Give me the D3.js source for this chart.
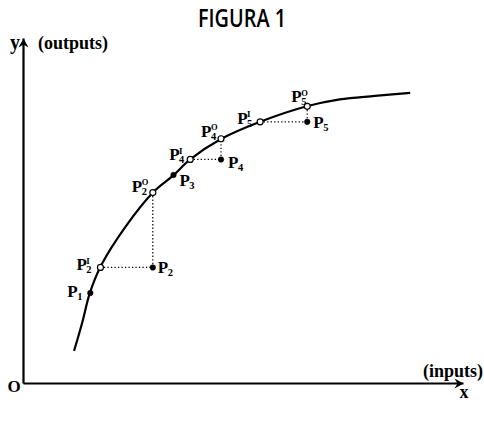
<!DOCTYPE html>
<html><head><meta charset="utf-8">
<script src="https://cdn.jsdelivr.net/npm/d3@7"></script>
<style>
html,body{margin:0;padding:0;background:#fff;}
svg{display:block;}
.serif{font-family:"Liberation Serif","Times New Roman",serif;font-weight:bold;fill:#000;}
</style></head>
<body>
<svg id="chart" width="484" height="423"></svg>
<script>
// ---- data (arbitrary units 0..100) ----
const title = "FIGURA 1";
const yAxisLabel = "(outputs)";
const xAxisLabel = "(inputs)";
const frontierX = [11.6, 13.5, 15.2, 17.8, 23.4, 29.6, 34.1, 38.0, 45.0, 53.9, 64.5, 72.0, 80.0, 88.0];
const frontierY = [9.3, 17.7, 26.1, 34.2, 45.5, 55.3, 60.1, 64.8, 70.7, 75.7, 80.2, 82.2, 83.2, 84.1];
const pointIds  = ["P1", "P2I", "P2", "P2O", "P3", "P4I", "P4", "P4O", "P5I", "P5", "P5O"];
const pointX    = [15.3, 17.6, 29.5, 29.5, 34.2, 38.0, 45.0, 45.0, 53.9, 64.6, 64.6];
const pointY    = [26.1, 33.5, 33.5, 55.2, 60.3, 64.8, 64.8, 70.8, 75.7, 75.7, 80.2];
const pointFill = ["filled","open","filled","open","filled","open","filled","open","open","filled","open"];
const labelSub  = ["1","2","2","2","3","4","4","4","5","5","5"];
const labelSup  = ["","I","","O","","I","","O","I","","O"];
// dotted projections: [from, to]
const projections = [["P2I","P2"],["P2","P2O"],["P4I","P4"],["P4","P4O"],["P5I","P5"],["P5","P5O"]];

// ---- layout (label offsets in px) ----
const labelOffset = {
  P1:[-23,4], P2I:[-24,3], P2:[5,6], P2O:[-21,-1], P3:[6,11],
  P4I:[-21,1], P4:[7,9], P4O:[-20,-2], P5I:[-23,2], P5:[6,6], P5O:[-16,-4]
};

const svg = d3.select("#chart");
svg.append("rect").attr("width",484).attr("height",423).attr("fill","#fff");

const x = d3.scaleLinear().domain([0,100]).range([23,463]);
const y = d3.scaleLinear().domain([0,100]).range([383,38]);

const defs = svg.append("defs");
defs.append("marker").attr("id","arrow").attr("viewBox","-10 -6 12 12")
  .attr("refX",0).attr("refY",0).attr("markerWidth",12).attr("markerHeight",12)
  .attr("markerUnits","userSpaceOnUse").attr("orient","auto")
  .append("path").attr("d","M0,0 L-9,-5 L-6,0 L-9,5 Z").attr("fill","#000");

// axes
const gx = svg.append("g").attr("transform",`translate(0,${y(0)})`)
  .call(d3.axisBottom(x).ticks(0).tickSizeOuter(0));
const gy = svg.append("g").attr("transform",`translate(${x(0)},0)`)
  .call(d3.axisLeft(y).ticks(0).tickSizeOuter(0));
[gx,gy].forEach(g=>{
  g.select(".domain").attr("stroke","#000").attr("stroke-width",2.2).attr("marker-end","url(#arrow)");
});

// axis labels
svg.append("text").attr("class","serif").attr("x",x(0)-13).attr("y",y(100)+11)
  .attr("font-size",20).text("y");
svg.append("text").attr("class","serif").attr("x",x(0)+15).attr("y",y(100)+11)
  .attr("font-size",18).text(yAxisLabel);
svg.append("text").attr("class","serif").attr("x",x(100)+20).attr("y",y(0)-6)
  .attr("text-anchor","end").attr("font-size",18).text(xAxisLabel);
svg.append("text").attr("class","serif").attr("x",x(0)-9).attr("y",y(0)+9)
  .attr("text-anchor","middle").attr("font-size",17).text("O");
svg.append("text").attr("class","serif").attr("x",x(100)+1).attr("y",y(0)+15)
  .attr("text-anchor","middle").attr("font-size",18).text("x");

// title
svg.append("text").attr("x",242).attr("y",27).attr("text-anchor","middle")
  .attr("font-family","'Open Sans',sans-serif").attr("font-weight",600)
  .attr("font-size",25).attr("textLength",88).attr("lengthAdjust","spacingAndGlyphs")
  .text(title);

// frontier
const frontier = frontierX.map((v,i)=>[v,frontierY[i]]);
svg.append("path").datum(frontier)
  .attr("d", d3.line().x(d=>x(d[0])).y(d=>y(d[1])).curve(d3.curveCatmullRom.alpha(0.5)))
  .attr("fill","none").attr("stroke","#000").attr("stroke-width",2.2);

// points
const pts = pointIds.map((id,i)=>({id,x:pointX[i],y:pointY[i],kind:pointFill[i],sub:labelSub[i],sup:labelSup[i]}));
const byId = Object.fromEntries(pts.map(p=>[p.id,p]));

svg.append("g").selectAll("line").data(projections).join("line")
  .attr("x1",d=>x(byId[d[0]].x)).attr("y1",d=>y(byId[d[0]].y))
  .attr("x2",d=>x(byId[d[1]].x)).attr("y2",d=>y(byId[d[1]].y))
  .attr("stroke","#000").attr("stroke-width",1.2).attr("stroke-dasharray","1.3,2.2");

svg.append("g").selectAll("circle").data(pts).join("circle")
  .attr("cx",d=>x(d.x)).attr("cy",d=>y(d.y))
  .attr("r",d=>d.kind==="open"?3:2.8)
  .attr("fill",d=>d.kind==="open"?"#fff":"#000")
  .attr("stroke","#000").attr("stroke-width",d=>d.kind==="open"?1.2:0.5);

// labels
const lg = svg.append("g");
pts.forEach(p=>{
  const [dx,dy] = labelOffset[p.id];
  const bx = x(p.x)+dx, by = y(p.y)+dy;
  const t = lg.append("text").attr("class","serif").attr("x",bx).attr("y",by)
    .attr("font-size",17).text("P");
  const w = t.node().getComputedTextLength();
  lg.append("text").attr("class","serif").attr("x",bx+w-0.5).attr("y",by+3)
    .attr("font-size",10.5).text(p.sub);
  if (p.sup) {
    lg.append("text").attr("class","serif").attr("x",bx+w-0.5).attr("y",by-6.5)
      .attr("font-size",p.sup==="O"?8.5:9).text(p.sup);
  }
});
</script>
</body></html>
